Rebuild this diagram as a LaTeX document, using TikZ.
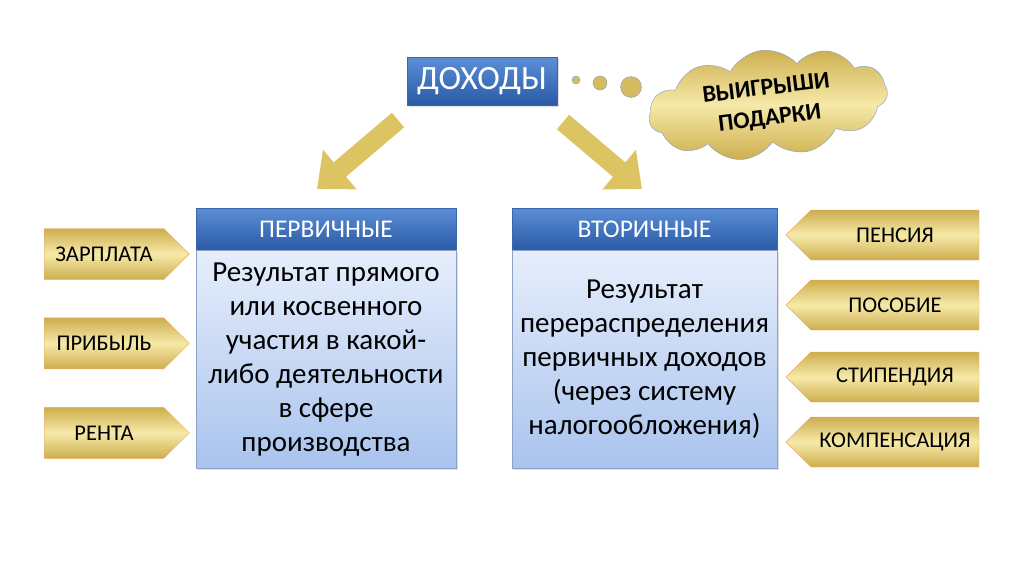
\documentclass[tikz,border=0pt]{standalone}
\usepackage{fontspec}
\setmainfont{Carlito}
\usetikzlibrary{positioning,shapes.symbols,shadows,arrows.meta}

\definecolor{hdrtop}{HTML}{5B8FD6}
\definecolor{hdrbot}{HTML}{2A5AA6}
\definecolor{hdrline}{HTML}{3A66A8}
\definecolor{bodytop}{HTML}{E6EEFB}
\definecolor{bodybot}{HTML}{A9C3EE}
\definecolor{bodyline}{HTML}{8CA3C6}
\definecolor{goldlo}{HTML}{CDAE4E}
\definecolor{goldhi}{HTML}{F6E9A8}
\definecolor{tagline}{HTML}{EFA75E}
\definecolor{cloudline}{HTML}{7F9FC8}
\definecolor{arrowgold}{HTML}{DCC462}

\begin{document}
\begin{tikzpicture}[x=1pt, y=-1pt, node distance=18pt]
        % Define block styles
        \tikzstyle{header} = [rectangle, draw=hdrline, top color=hdrtop, bottom color=hdrbot, text=white, text centered, minimum height=42pt, font=\fontsize{25.5}{30}\selectfont]
        \tikzstyle{bodybox} = [rectangle, draw=bodyline, top color=bodytop, bottom color=bodybot, align=center, minimum height=218pt, font=\fontsize{29}{34}\selectfont, drop shadow={opacity=0.25, shadow xshift=2pt, shadow yshift=-2pt}]
        \tikzstyle{tag} = [signal, draw=tagline, top color=goldlo, bottom color=goldlo, middle color=goldhi, minimum height=51pt, font=\fontsize{22.5}{26}\selectfont]
        \tikzstyle{bubble} = [circle, draw=cloudline, fill=goldlo!80!goldhi, inner sep=0pt]
        \tikzstyle{fatarrow} = [line width=19pt, draw=arrowgold, -{Triangle[width=50pt, length=30pt]}]

        \useasboundingbox (0,0) rectangle (1024,574);

        % Top node
        \node[header, minimum width=150pt, minimum height=48pt, font=\fontsize{34}{40}\selectfont, drop shadow={opacity=0.25, shadow xshift=2pt, shadow yshift=-2pt}] (dohody) at (482,81) {ДОХОДЫ};

        % Thought bubbles and cloud
        \node[bubble, minimum size=8pt] (b1) at (576,80) {};
        \node[bubble, minimum size=14pt] (b2) at (600,83) {};
        \node[bubble, minimum size=21pt] (b3) at (631,87) {};
        \node[cloud, cloud puffs=11, cloud puff arc=110, aspect=2.3, draw=cloudline, top color=goldlo, bottom color=goldlo, middle color=goldhi, minimum width=240pt, minimum height=108pt, rotate=7, align=center, font=\bfseries\fontsize{24}{30}\selectfont] (cloud) at (768,104) {ВЫИГРЫШИ\\ПОДАРКИ};

        % Main boxes
        \node[header, minimum width=260pt] (perv) at (326,229) {ПЕРВИЧНЫЕ};
        \node[bodybox, minimum width=260pt, below=0pt of perv] (pervtxt) {Результат прямого\\или косвенного\\участия в какой-\\либо деятельности\\в сфере\\производства};
        \node[header, minimum width=265pt] (vtor) at (644.5,229) {ВТОРИЧНЫЕ};
        \node[bodybox, minimum width=265pt, below=0pt of vtor] (vtortxt) {Результат\\перераспределения\\первичных доходов\\(через систему\\налогообложения)};

        % Left tags
        \node[tag, signal to=east, minimum width=145pt] (zarplata) at (104,254) {ЗАРПЛАТА};
        \node[tag, signal to=east, minimum width=145pt, below=38pt of zarplata] (pribyl) {ПРИБЫЛЬ};
        \node[tag, signal to=east, minimum width=145pt, below=38pt of pribyl] (renta) {РЕНТА};

        % Right tags
        \node[tag, signal to=west, minimum width=193pt, minimum height=50pt] (pensiya) at (895,235) {ПЕНСИЯ};
        \node[tag, signal to=west, minimum width=193pt, minimum height=50pt] (posobie) at (895,305) {ПОСОБИЕ};
        \node[tag, signal to=west, minimum width=193pt, minimum height=50pt] (stipendiya) at (895,377) {СТИПЕНДИЯ};
        \node[tag, signal to=west, minimum width=193pt, minimum height=50pt] (kompens) at (895,442) {КОМПЕНСАЦИЯ};

        % Arrows
        \coordinate (ltail) at (398,120);
        \coordinate (ltip) at (317,189);
        \coordinate (rtail) at (563,122);
        \coordinate (rtip) at (642,189);
        \draw[fatarrow] (ltail) -- (ltip);
        \draw[fatarrow] (rtail) -- (rtip);

    \end{tikzpicture}
\end{document}
